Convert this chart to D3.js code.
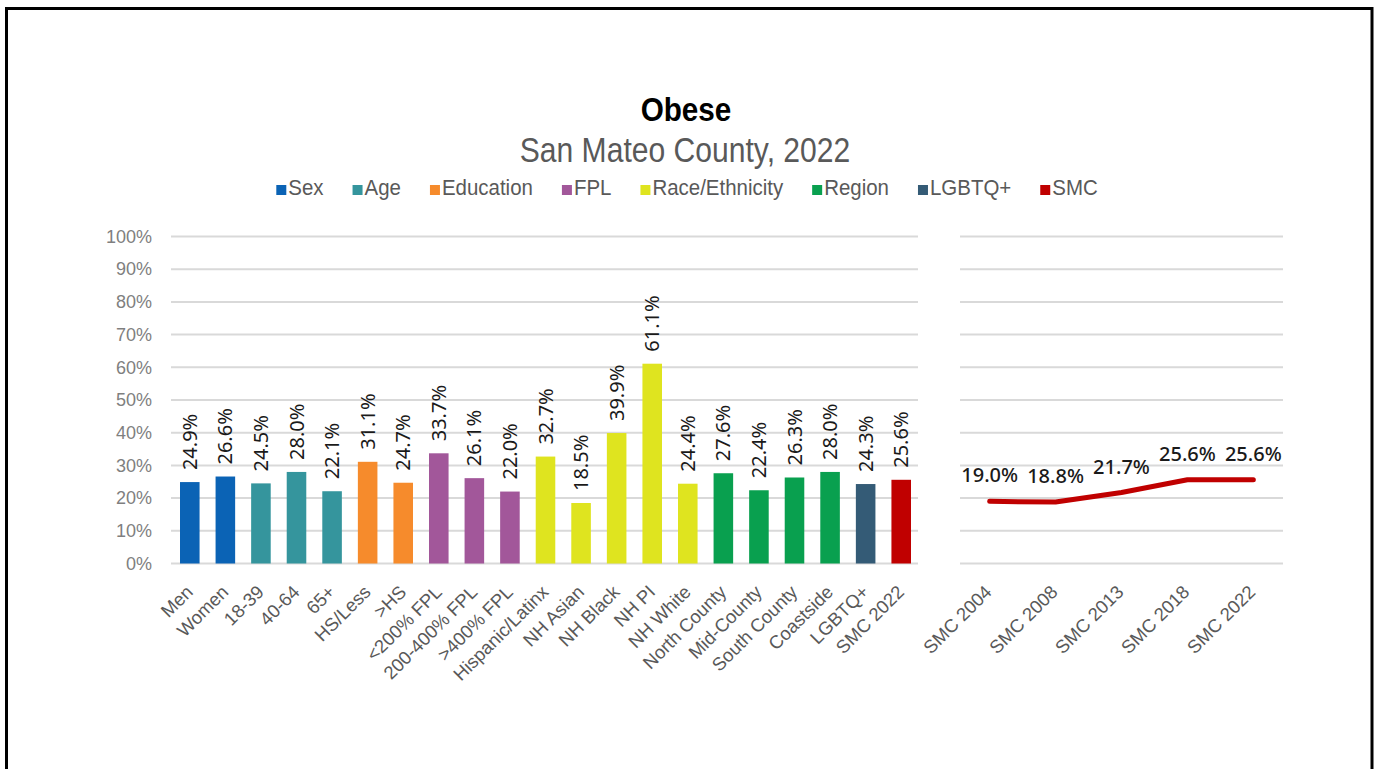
<!DOCTYPE html>
<meta charset="utf-8">
<head>
<style>
body {
  margin: 0;
  background-color: #fff;
}
.title {
  font-family: 'Liberation Sans', sans-serif;
  font-weight: bold;
  font-size: 33px;
  fill: #000;
}
.subtitle {
  font-family: 'Liberation Sans', sans-serif;
  font-size: 35px;
  fill: #595959;
}
.legend text {
  font-family: 'Liberation Sans', sans-serif;
  font-size: 22px;
  fill: #595959;
}
.axis text {
  font-family: 'Liberation Sans', sans-serif;
  font-size: 18px;
  fill: #7f7f7f;
}
.xlab text {
  font-family: 'Liberation Sans', sans-serif;
  font-size: 18.5px;
  fill: #595959;
}
.val {
  font-family: 'Noto Sans', sans-serif;
  font-size: 20px;
  fill: #1a1a1a;
}
.grid line {
  stroke: #d9d9d9;
  stroke-width: 2;
}
</style>
<script src="https://cdn.jsdelivr.net/npm/d3@7"></script>
</head>
<body>
<svg id="chart"></svg>
<script>

var width = 1376
var height = 769

// bar chart data
var categories = ["Men", "Women", "18-39", "40-64", "65+", "HS/Less", ">HS", "<200% FPL", "200-400% FPL", ">400% FPL",
  "Hispanic/Latinx", "NH Asian", "NH Black", "NH PI", "NH White", "North County", "Mid-County", "South County",
  "Coastside", "LGBTQ+", "SMC 2022"]
var values = [24.9, 26.6, 24.5, 28.0, 22.1, 31.1, 24.7, 33.7, 26.1, 22.0, 32.7, 18.5, 39.9, 61.1, 24.4, 27.6, 22.4, 26.3, 28.0, 24.3, 25.6]
var groups = ["Sex", "Sex", "Age", "Age", "Age", "Education", "Education", "FPL", "FPL", "FPL",
  "Race/Ethnicity", "Race/Ethnicity", "Race/Ethnicity", "Race/Ethnicity", "Race/Ethnicity",
  "Region", "Region", "Region", "Region", "LGBTQ+", "SMC"]

// trend data
var trendYears = ["SMC 2004", "SMC 2008", "SMC 2013", "SMC 2018", "SMC 2022"]
var trendValues = [19.0, 18.8, 21.7, 25.6, 25.6]

var legendNames = ["Sex", "Age", "Education", "FPL", "Race/Ethnicity", "Region", "LGBTQ+", "SMC"]
var legendColors = ["#0B63B5", "#35959D", "#F68B2C", "#A2579A", "#DFE41F", "#09A04F", "#345B76", "#C00000"]
var yTicks = [0, 10, 20, 30, 40, 50, 60, 70, 80, 90, 100]

var color = d3.scaleOrdinal().domain(legendNames).range(legendColors)

var svg = d3.select('#chart')
  .attr('width', width)
  .attr('height', height)

// frame
svg.append('path')
  .attr('d', 'M6.5,' + (height + 5) + 'V8.5H1372V' + (height + 5))
  .attr('fill', 'none')
  .attr('stroke', '#000')
  .attr('stroke-width', 3)

// titles (squeezed a bit, the original face is condensed)
svg.append('text').attr('class', 'title')
  .attr('transform', 'translate(686,121) scale(0.9,1)')
  .attr('text-anchor', 'middle')
  .text('Obese')

svg.append('text').attr('class', 'subtitle')
  .attr('transform', 'translate(685,162) scale(0.86,1)')
  .attr('text-anchor', 'middle')
  .text('San Mateo County, 2022')

// legend
var sq = 0.93
var gap = 29
var legend = svg.append('g').attr('class', 'legend')
var lx = 0
legendNames.forEach(function (name) {
  var item = legend.append('g').attr('transform', 'translate(' + lx + ',0)')
  item.append('rect')
    .attr('x', 0).attr('y', -10)
    .attr('width', 10).attr('height', 10)
    .attr('fill', color(name))
  var t = item.append('text')
    .attr('transform', 'translate(12,0) scale(' + sq + ',1)')
    .text(name)
  lx += 12 + t.node().getComputedTextLength() * sq + gap
})
lx -= gap
legend.attr('transform', 'translate(' + (687 - lx / 2) + ',195)')

// scales
var y = d3.scaleLinear().domain([0, 100]).range([563.5, 236.5])

var x = d3.scaleBand()
  .domain(categories)
  .range([172, 919])
  .paddingInner(0.45)
  .paddingOuter(0.225)

var x2 = d3.scalePoint()
  .domain(trendYears)
  .range([960, 1283])
  .padding(0.45)

// gridlines
var grid = svg.append('g').attr('class', 'grid')
grid.selectAll('.gl')
  .data(yTicks)
  .enter().append('line')
  .attr('x1', 171).attr('x2', 918)
  .attr('y1', function (d) { return y(d) })
  .attr('y2', function (d) { return y(d) })

grid.selectAll('.gr')
  .data(yTicks)
  .enter().append('line')
  .attr('x1', 960).attr('x2', 1283)
  .attr('y1', function (d) { return y(d) })
  .attr('y2', function (d) { return y(d) })

// y axis labels
svg.append('g')
  .attr('class', 'axis')
  .attr('transform', 'translate(160,0)')
  .call(d3.axisLeft(y).tickValues(yTicks).tickSize(0).tickPadding(8).tickFormat(function (d) { return d + '%' }))
  .select('.domain').remove()

// bars
svg.selectAll('.bar')
  .data(categories)
  .enter().append('rect')
  .attr('class', 'bar')
  .attr('x', function (d) { return x(d) })
  .attr('width', x.bandwidth())
  .attr('y', function (d, i) { return y(values[i]) })
  .attr('height', function (d, i) { return y(0) - y(values[i]) })
  .attr('fill', function (d, i) { return color(groups[i]) })

// bar value labels
svg.selectAll('.val-bar')
  .data(categories)
  .enter().append('text')
  .attr('class', 'val')
  .attr('transform', function (d, i) {
    return 'translate(' + (x(d) + x.bandwidth() / 2) + ',' + (y(values[i]) - 12) + ') rotate(-90)'
  })
  .attr('dy', '0.35em')
  .text(function (d, i) { return values[i].toFixed(1) + '%' })

// x labels, bars
var xl = svg.append('g').attr('class', 'xlab')
xl.selectAll('text')
  .data(categories)
  .enter().append('text')
  .attr('text-anchor', 'end')
  .attr('transform', function (d) {
    return 'translate(' + (x(d) + x.bandwidth() / 2 - 5) + ',584) rotate(-45)'
  })
  .attr('dy', '0.7em')
  .text(function (d) { return d })

// trend line
var line = d3.line()
  .x(function (d, i) { return x2(trendYears[i]) })
  .y(function (d) { return y(d) })

svg.append('path')
  .datum(trendValues)
  .attr('d', line)
  .attr('fill', 'none')
  .attr('stroke', '#C00000')
  .attr('stroke-width', 5)
  .attr('stroke-linecap', 'round')
  .attr('stroke-linejoin', 'round')

svg.selectAll('.val-line')
  .data(trendValues)
  .enter().append('text')
  .attr('class', 'val')
  .style('font-weight', 500)
  .attr('text-anchor', 'middle')
  .attr('x', function (d, i) { return x2(trendYears[i]) })
  .attr('y', function (d) { return y(d) - 19 })
  .text(function (d) { return d.toFixed(1) + '%' })

var xl2 = svg.append('g').attr('class', 'xlab')
xl2.selectAll('text')
  .data(trendYears)
  .enter().append('text')
  .attr('text-anchor', 'end')
  .attr('transform', function (d) {
    return 'translate(' + (x2(d) - 6) + ',584) rotate(-45)'
  })
  .attr('dy', '0.7em')
  .text(function (d) { return d })

</script>
</body>
</html>
